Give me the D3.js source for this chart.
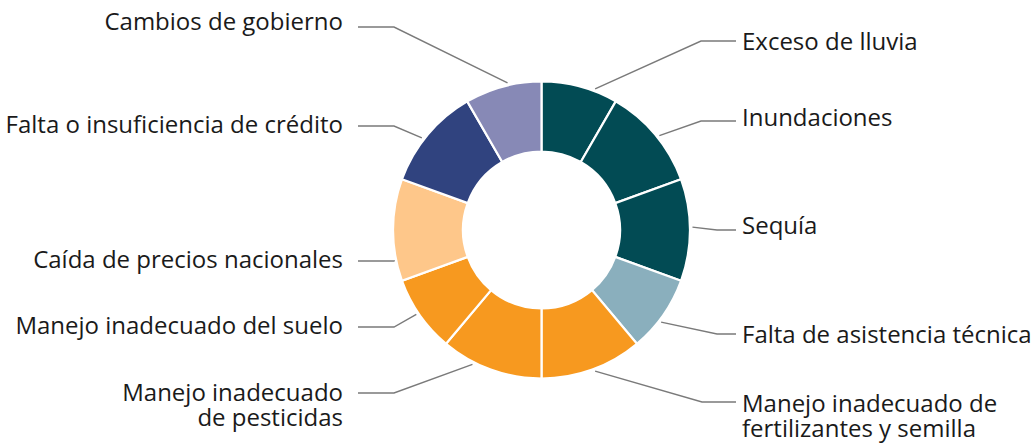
<!DOCTYPE html>
<html>
<head>
<meta charset="utf-8">
<script src="https://cdn.jsdelivr.net/npm/d3@7"></script>
<style>
  html, body { margin: 0; padding: 0; background: #fff; }
  svg { display: block; }
  text { font-family: "Open Sans", "Noto Sans", sans-serif; font-size: 24px; fill: #1a1a1a; }
</style>
</head>
<body>
<svg id="chart" width="1035" height="445"></svg>
<script>
// ---- data ----
const categories = [
  "Exceso de lluvia",
  "Inundaciones",
  "Sequía",
  "Falta de asistencia técnica",
  "Manejo inadecuado de|fertilizantes y semilla",
  "Manejo inadecuado|de pesticidas",
  "Manejo inadecuado del suelo",
  "Caída de precios nacionales",
  "Falta o insuficiencia de crédito",
  "Cambios de gobierno"
];
const values = [3, 4, 4, 3, 4, 4, 3, 4, 4, 3];
const colors = ["#024b54", "#024b54", "#024b54", "#8aafbd", "#f7991f", "#f7991f", "#f7991f", "#fec78a", "#30437f", "#8789b6"];

// ---- layout (label placement, not data) ----
const labelLayout = [
  { side: "right", y: 41,  textY: 50,  angle: 20.8,  elbowX: 701 },
  { side: "right", y: 121, textY: 126, angle: 51.3,  elbowX: 701 },
  { side: "right", y: 230, textY: 234, angle: 88.9,  elbowX: 717 },
  { side: "right", y: 334, textY: 343, angle: 127.6, elbowX: 717 },
  { side: "right", y: 402, textY: 412, angle: 159.2, elbowX: 702 },
  { side: "left",  y: 393, textY: 401, angle: 207.2, elbowX: 394 },
  { side: "left",  y: 327, textY: 334, angle: 236,   elbowX: 394 },
  { side: "left",  y: 261, textY: 268, angle: 258,   elbowX: 394 },
  { side: "left",  y: 126, textY: 133, angle: 307.6, elbowX: 394 },
  { side: "left",  y: 27,  textY: 30,  angle: 347,   elbowX: 394 }
];

const cx = 541.5, cy = 230;
const outerR = 148.5, innerR = 78.5, anchorR = 151;
const lineHeight = 24.5;

const svg = d3.select("#chart");
const g = svg.append("g").attr("transform", `translate(${cx},${cy})`);

const pie = d3.pie().sort(null).value(d => d.v).startAngle(0).endAngle(2 * Math.PI);
const arc = d3.arc().innerRadius(innerR).outerRadius(outerR);

const data = categories.map((c, i) => ({ c, v: values[i], color: colors[i], lay: labelLayout[i] }));
const arcs = pie(data);

g.selectAll("path.slice")
  .data(arcs)
  .join("path")
  .attr("class", "slice")
  .attr("d", arc)
  .attr("fill", d => d.data.color)
  .attr("stroke", "#fff")
  .attr("stroke-width", 2.2)
  .attr("stroke-linejoin", "miter");

// leader lines and labels
const lines = svg.append("g");
const labels = svg.append("g");

data.forEach(d => {
  const L = d.lay;
  const a = L.angle * Math.PI / 180;
  const sx = cx + anchorR * Math.sin(a);
  const sy = cy - anchorR * Math.cos(a);
  const endX = L.side === "right" ? 736 : 358;
  lines.append("polyline")
    .attr("points", `${sx},${sy} ${L.elbowX},${L.y} ${endX},${L.y}`)
    .attr("fill", "none")
    .attr("stroke", "#7a7a7a")
    .attr("stroke-width", 1.4);

  const parts = d.c.split("|");
  const tx = L.side === "right" ? 742 : 343;
  const t = labels.append("text")
    .attr("x", tx)
    .attr("y", L.textY)
    .attr("text-anchor", L.side === "right" ? "start" : "end");
  parts.forEach((p, k) => {
    t.append("tspan")
      .attr("x", tx)
      .attr("y", L.textY + k * lineHeight)
      .text(p);
  });
});
</script>
</body>
</html>
